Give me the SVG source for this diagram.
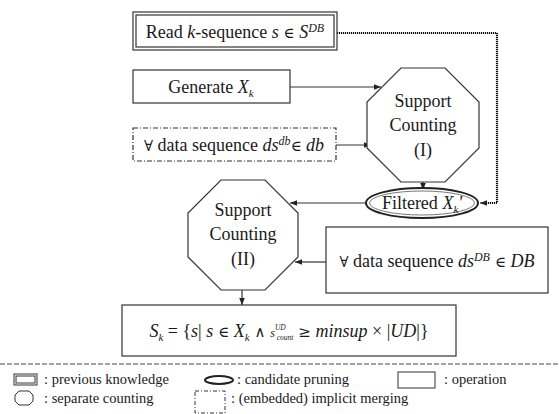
<svg xmlns="http://www.w3.org/2000/svg" width="559" height="414" viewBox="0 0 559 414">
<defs>
<style>
text{font-family:"Liberation Serif","Times New Roman",serif;fill:#1a1a1a}
.t{font-size:18px}
.l{font-size:14.5px}
.i{font-style:italic}
.m{font-family:"DejaVu Serif","Liberation Serif",serif;font-size:15px}
.box{fill:#fff;stroke:#333;stroke-width:1.2}
.ln{fill:none;stroke:#333;stroke-width:1.2}
</style>
<marker id="ar" viewBox="0 0 10 10" refX="10" refY="5" markerWidth="7" markerHeight="7" orient="auto" markerUnits="userSpaceOnUse"><path d="M0,1 L10,5 L0,9 Z" fill="#222"/></marker>
</defs>
<rect width="559" height="414" fill="#fff"/>

<g id="connectors">
<path d="M337,33 H497 V203 H482" fill="none" stroke="#111" stroke-dasharray="1.2,0.8" stroke-width="2.2"/>
<path class="ln" d="M483,203 H480" marker-end="url(#ar)"/>
<path class="ln" d="M290,87 H381" marker-end="url(#ar)"/>
<path class="ln" d="M336,145 H371" marker-end="url(#ar)"/>
<path class="ln" d="M423,182 V190" marker-end="url(#ar)"/>
<path class="ln" d="M366,203 H290" marker-end="url(#ar)"/>
<path class="ln" d="M326,262 H295" marker-end="url(#ar)"/>
<path class="ln" d="M242,290 V305" marker-end="url(#ar)"/>
</g>

<g id="read">
<rect class="box" x="133" y="12" width="204" height="38"/>
<rect class="box" x="136" y="15" width="198" height="32"/>
<text class="t" x="235" y="38" text-anchor="middle">Read <tspan class="i">k</tspan>-sequence <tspan class="i">s</tspan> <tspan class="m">∈ </tspan><tspan class="i">S</tspan><tspan class="i" font-size="12" dy="-6">DB</tspan></text>
</g>

<g id="generate">
<rect class="box" x="133" y="70" width="157" height="33"/>
<text class="t" x="211" y="93" text-anchor="middle">Generate <tspan class="i">X</tspan><tspan class="i" font-size="11" dy="4">k</tspan></text>
</g>

<g id="local">
<rect class="box" x="133" y="128" width="203" height="33" stroke-dasharray="5,2,1,2"/>
<text class="t" x="234" y="151" text-anchor="middle"><tspan class="m">∀</tspan> data sequence <tspan class="i">ds</tspan><tspan class="i" font-size="12" dy="-6">db</tspan><tspan class="m" dy="6">∈</tspan> <tspan class="i">db</tspan></text>
</g>

<g id="count1">
<polygon class="box" points="401,68 445,68 479,102 479,148 445,182 401,182 367,148 367,102"/>
<text class="t" x="423" y="107" text-anchor="middle">Support</text>
<text class="t" x="423" y="131" text-anchor="middle">Counting</text>
<text class="t" x="423" y="156" text-anchor="middle">(I)</text>
</g>

<g id="filtered">
<ellipse cx="422" cy="203" rx="56" ry="15" fill="#fff" stroke="#222" stroke-width="2"/>
<ellipse cx="422" cy="203" rx="52.5" ry="12" fill="none" stroke="#555" stroke-width="0.8"/>
<text class="t" x="422" y="209" text-anchor="middle">Filtered <tspan class="i">X</tspan><tspan class="i" font-size="11" dy="4">k</tspan><tspan class="i" dy="-4">'</tspan></text>
</g>

<g id="count2">
<polygon class="box" points="221,180 265,180 298,213 298,257 265,290 221,290 188,257 188,213"/>
<text class="t" x="243" y="216" text-anchor="middle">Support</text>
<text class="t" x="243" y="240" text-anchor="middle">Counting</text>
<text class="t" x="243" y="265" text-anchor="middle">(II)</text>
</g>

<g id="global">
<rect class="box" x="326" y="227" width="222" height="66"/>
<text class="t" x="437" y="267" text-anchor="middle"><tspan class="m">∀</tspan> data sequence <tspan class="i">ds</tspan><tspan class="i" font-size="12" dy="-6">DB</tspan><tspan class="m" dy="6"> ∈ </tspan><tspan class="i">DB</tspan></text>
</g>

<g id="result">
<rect class="box" x="122" y="305" width="334" height="51"/>
<text class="t" x="289" y="337" text-anchor="middle"><tspan class="i">S</tspan><tspan class="i" font-size="11" dy="4">k</tspan><tspan dy="-4"> = {</tspan><tspan class="i">s</tspan>| <tspan class="i">s</tspan><tspan class="m"> ∈ </tspan><tspan class="i">X</tspan><tspan class="i" font-size="11" dy="4">k</tspan><tspan class="m" dy="-4"> ∧ </tspan><tspan class="i" font-size="12">s</tspan><tspan class="i" font-size="7.5" dy="-7">UD</tspan><tspan class="i" font-size="7.5" dx="-9" dy="10">count</tspan><tspan class="m" dy="-3"> ≥ </tspan><tspan class="i">minsup</tspan> × |<tspan class="i">UD</tspan>|}</text>
</g>

<g id="legend">
<line x1="0" y1="364" x2="559" y2="364" stroke="#444" stroke-width="1" stroke-dasharray="5,2"/>
<rect x="14" y="374" width="23" height="11" fill="#fff" stroke="#333" stroke-width="1"/>
<rect x="16" y="376" width="19" height="7" fill="none" stroke="#333" stroke-width="1"/>
<text class="l" x="44" y="384">: previous knowledge</text>
<ellipse cx="219" cy="380" rx="14" ry="4" fill="none" stroke="#222" stroke-width="2"/>
<text class="l" x="237" y="384">: candidate pruning</text>
<rect x="398" y="372" width="37" height="16" fill="#fff" stroke="#333" stroke-width="1"/>
<text class="l" x="444" y="384">: operation</text>
<polygon points="19,391 29,391 33,395 33,401 29,405 19,405 15,401 15,395" fill="#fff" stroke="#333" stroke-width="1"/>
<text class="l" x="44" y="403">: separate counting</text>
<rect x="195" y="391" width="30" height="22" fill="none" stroke="#333" stroke-width="1" stroke-dasharray="4,2,1,2"/>
<text class="l" x="231" y="403">: (embedded) implicit merging</text>
</g>
</svg>
